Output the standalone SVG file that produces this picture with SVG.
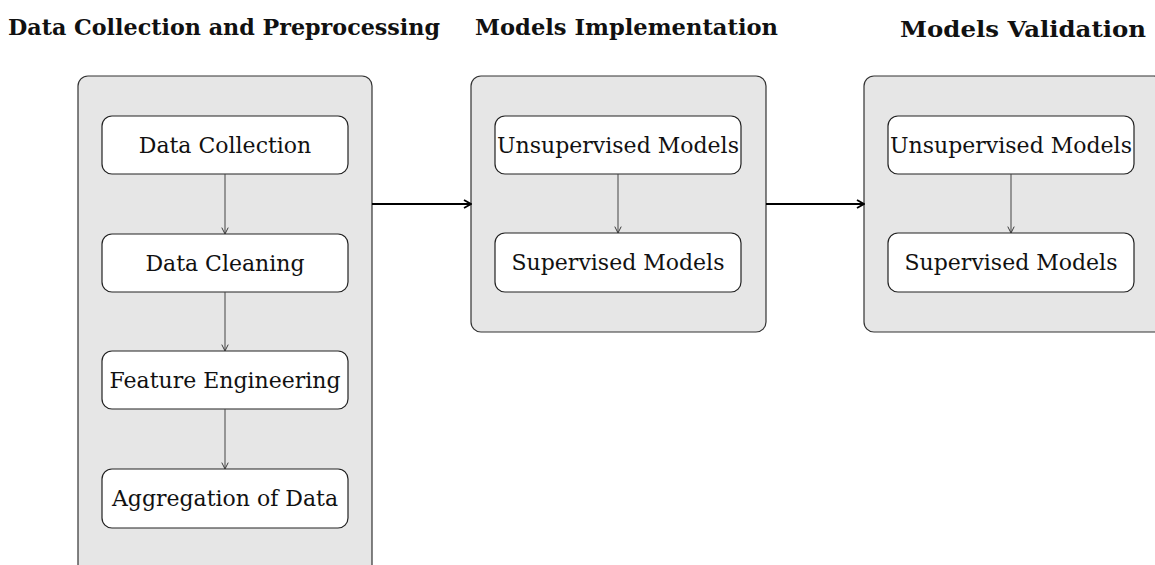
<svg xmlns="http://www.w3.org/2000/svg" width="1155" height="565" viewBox="0 0 1155 565">
  <style>
    .title { font-family: "DejaVu Serif", "Liberation Serif", serif; font-weight: bold; font-size: 23px; fill: #111; }
    .panel { fill: #e6e6e6; stroke: #333; stroke-width: 1.2; }
    .box { fill: #fff; stroke: #222; stroke-width: 1.2; }
    .label { font-family: "DejaVu Serif", "Liberation Serif", serif; font-size: 22px; fill: #111; text-anchor: middle; }
    .thin { stroke: #444; stroke-width: 1; fill: none; }
    .thick { stroke: #000; stroke-width: 2; fill: none; }
  </style>
  <defs>
    <marker id="tip" viewBox="0 0 10 10" refX="9" refY="5" markerWidth="8" markerHeight="8" markerUnits="userSpaceOnUse" orient="auto">
      <path d="M1,1 L9,5 L1,9" fill="none" stroke="#333" stroke-width="1.2"/>
    </marker>
    <marker id="tipBold" viewBox="0 0 10 10" refX="9" refY="5" markerWidth="10" markerHeight="10" markerUnits="userSpaceOnUse" orient="auto">
      <path d="M2,1 L9,5 L2,9" fill="none" stroke="#000" stroke-width="1.8"/>
    </marker>
  </defs>

  <!-- stage headings -->
  <text class="title" x="8" y="35" textLength="432" lengthAdjust="spacingAndGlyphs">Data Collection and Preprocessing</text>
  <text class="title" x="475" y="35" textLength="303" lengthAdjust="spacingAndGlyphs">Models Implementation</text>
  <text class="title" x="900" y="37" textLength="246" lengthAdjust="spacingAndGlyphs">Models Validation</text>

  <!-- stage 1 -->
  <g id="stage-preprocessing">
    <rect class="panel" x="78" y="76" width="294" height="500" rx="10"/>
    <g id="data-collection">
      <rect class="box" x="102" y="116" width="246" height="58" rx="10"/>
      <text class="label" x="225" y="153">Data Collection</text>
    </g>
    <g id="data-cleaning">
      <rect class="box" x="102" y="234" width="246" height="58" rx="10"/>
      <text class="label" x="225" y="271">Data Cleaning</text>
    </g>
    <g id="feature-engineering">
      <rect class="box" x="102" y="351" width="246" height="58" rx="10"/>
      <text class="label" x="225" y="388">Feature Engineering</text>
    </g>
    <g id="aggregation">
      <rect class="box" x="102" y="469" width="246" height="59" rx="10"/>
      <text class="label" x="225" y="506">Aggregation of Data</text>
    </g>
  </g>

  <!-- stage 2 -->
  <g id="stage-implementation">
    <rect class="panel" x="471" y="76" width="295" height="256" rx="10"/>
    <g id="impl-unsupervised">
      <rect class="box" x="495" y="116" width="246" height="58" rx="10"/>
      <text class="label" x="618" y="153">Unsupervised Models</text>
    </g>
    <g id="impl-supervised">
      <rect class="box" x="495" y="233" width="246" height="59" rx="10"/>
      <text class="label" x="618" y="270">Supervised Models</text>
    </g>
  </g>

  <!-- stage 3 -->
  <g id="stage-validation">
    <rect class="panel" x="864" y="76" width="300" height="256" rx="10"/>
    <g id="val-unsupervised">
      <rect class="box" x="888" y="116" width="246" height="58" rx="10"/>
      <text class="label" x="1011" y="153">Unsupervised Models</text>
    </g>
    <g id="val-supervised">
      <rect class="box" x="888" y="233" width="246" height="59" rx="10"/>
      <text class="label" x="1011" y="270">Supervised Models</text>
    </g>
  </g>

  <!-- connectors -->
  <g id="connectors">
    <line class="thin" x1="225" y1="174" x2="225" y2="234" marker-end="url(#tip)"/>
    <line class="thin" x1="225" y1="292" x2="225" y2="351" marker-end="url(#tip)"/>
    <line class="thin" x1="225" y1="409" x2="225" y2="469" marker-end="url(#tip)"/>
    <line class="thin" x1="618" y1="174" x2="618" y2="233" marker-end="url(#tip)"/>
    <line class="thin" x1="1011" y1="174" x2="1011" y2="233" marker-end="url(#tip)"/>
    <line class="thick" x1="372" y1="204" x2="471" y2="204" marker-end="url(#tipBold)"/>
    <line class="thick" x1="766" y1="204" x2="864" y2="204" marker-end="url(#tipBold)"/>
  </g>
</svg>
